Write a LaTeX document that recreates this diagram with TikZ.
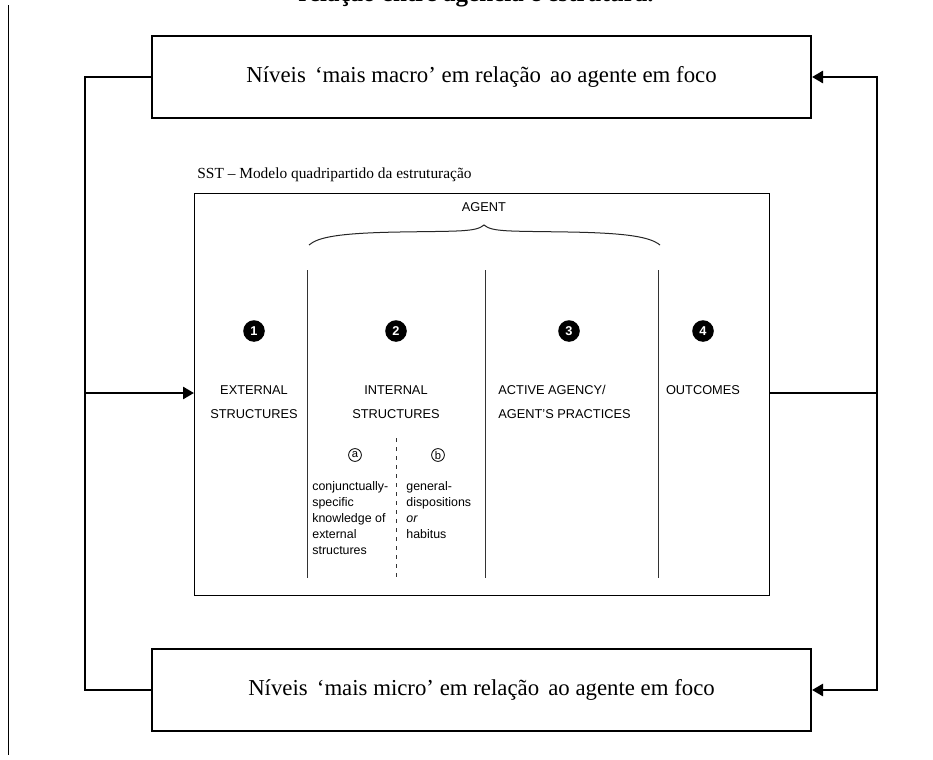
\documentclass[tikz,border=0pt]{standalone}
\usepackage{fontspec}
\setmainfont{Liberation Serif}
\newfontfamily\labelfont{Liberation Sans}
\usetikzlibrary{arrows.meta}
\begin{document}
\begin{tikzpicture}[x=0.5pt,y=-0.5pt,
  levelbox/.style={draw=black,line width=1pt,minimum width=329.5pt,minimum height=41pt,inner sep=0pt,
    font=\fontsize{11.4}{13}\selectfont},
  loopline/.style={line width=1.3pt},
  flow/.style={loopline,-{Triangle[length=5.5pt,width=6pt]}},
  divider/.style={line width=0.5pt,draw=black!80},
  caps/.style={font=\labelfont\fontsize{6.4}{12}\selectfont,align=center,inner sep=0pt,anchor=base},
  numdot/.style={circle,fill=black,minimum size=10.8pt,inner sep=0pt,text=white,
    font=\labelfont\bfseries\fontsize{6.4}{6.4}\selectfont},
  letterdot/.style={circle,draw,line width=0.4pt,minimum size=6.4pt,inner sep=0pt,
    font=\labelfont\fontsize{5.6}{5.6}\selectfont},
  smalltext/.style={font=\labelfont\fontsize{6.2}{7.9}\selectfont,align=left,anchor=base west,inner sep=0pt}
]
\useasboundingbox (0,0) rectangle (933,760);
\clip (0,0) rectangle (933,760);
\fill[white] (0,0) rectangle (933,760);

% caption line running off the top edge
\node[font=\bfseries\fontsize{12.5}{14}\selectfont,anchor=base,inner sep=0pt] (caption) at (476,2) {relação entre agência e estrutura.};

% margin rule
\draw[line width=0.5pt] (8,5) -- (8,755);

% outer levels
\node[levelbox] (macro) at (481.5,77) {Níveis\hspace{0.4em}‘mais macro’ em relação\hspace{0.4em}ao agente em foco};
\node[levelbox] (micro) at (481.5,690) {Níveis\hspace{0.4em}‘mais micro’ em relação\hspace{0.4em}ao agente em foco};

% quadripartite model frame
\node[anchor=base west,font=\fontsize{7.7}{9}\selectfont,inner sep=0pt] (sstlabel) at (197,178) {SST – Modelo quadripartido da estruturação};
\node[draw,line width=0.5pt,minimum width=287.5pt,minimum height=201pt,inner sep=0pt] (sst) at (482,394) {};

\node[caps] (agent) at (484,211) {AGENT};
\draw[line width=0.5pt,draw=black!85] (309,245) .. controls (318,237) and (340,233) .. (400,232)
  .. controls (460,231) and (476,232) .. (484,225)
  .. controls (492,232) and (508,231) .. (568,232)
  .. controls (628,233) and (650,237) .. (660,245);

% column dividers
\draw[divider] (307,270) -- (307,578);
\draw[divider] (485,270) -- (485,578);
\draw[divider] (658,270) -- (658,578);
\draw[divider,dash pattern=on 2pt off 2.5pt] (396,438) -- (396,578);

% numbered columns
\node[numdot] (n1) at (254,331) {1};
\node[numdot] (n2) at (396,331) {2};
\node[numdot] (n3) at (569,331) {3};
\node[numdot] (n4) at (703,331) {4};

% multi-line labels are placed by the baseline of their last line
\node[caps] (ext) at (254,418) {EXTERNAL\\STRUCTURES};
\node[caps] (int) at (396,418) {INTERNAL\\STRUCTURES};
\node[caps,align=left,anchor=base west] (act) at (498,418) {ACTIVE AGENCY/\\AGENT’S PRACTICES};
\node[caps] (out) at (703,394) {OUTCOMES};

% internal structures split
\node[letterdot] (la) at (355,455) {a};
\node[letterdot] (lb) at (438,455) {b};
\node[smalltext] (ka) at (312,554) {conjunctually-\\specific\\knowledge of\\external\\structures};
\node[smalltext] (kb) at (406,538) {general-\\dispositions\\\textit{or}\\habitus};

% feedback loops
\coordinate (ltop) at (85,77);
\coordinate (lbot) at (85,690);
\coordinate (lmid) at (85,393);
\coordinate (rtop) at (877,77);
\coordinate (rbot) at (877,690);
\coordinate (rmid) at (877,393);

\draw[loopline] (macro.west) -- (ltop) -- (lbot) -- (micro.west);
\draw[flow] (lmid) -- (lmid -| sst.west);
\draw[loopline] (rmid -| sst.east) -- (rmid);
\draw[flow] (rmid) -- (rtop) -- (macro.east);
\draw[flow] (rmid) -- (rbot) -- (micro.east);
\end{tikzpicture}
\end{document}
